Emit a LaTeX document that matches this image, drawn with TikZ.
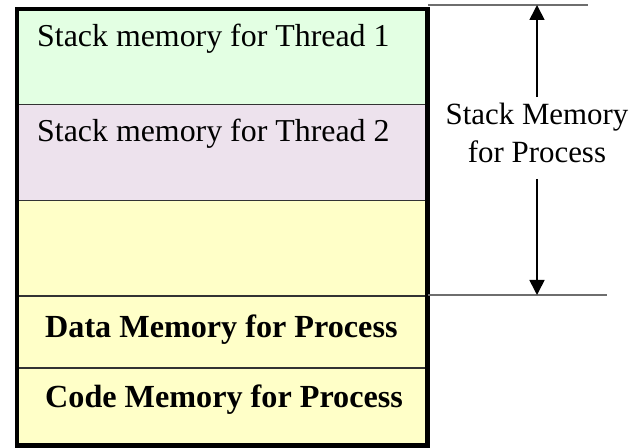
\documentclass[tikz,border=0pt]{standalone}
\usepackage{fontspec}
\setmainfont{Liberation Serif}
\usetikzlibrary{arrows.meta}
\definecolor{throne}{RGB}{227,255,227}
\definecolor{thrtwo}{RGB}{237,226,237}
\definecolor{procmem}{RGB}{255,255,200}
\definecolor{rulegray}{RGB}{110,110,110}
\begin{document}
\begin{tikzpicture}[x=1bp,y=-1bp]
  \tikzset{segment/.style={draw=black!80, line width=1.5bp, inner sep=0pt, anchor=north west, minimum width=409bp},
    memtext/.style={anchor=base west, inner sep=0pt, font=\fontsize{32}{36}\selectfont},
    extent/.style={draw=rulegray, line width=1.5bp},
    span/.style={line width=1.6bp, -{Triangle[width=15bp,length=15bp]}}}
  \useasboundingbox (0,0) rectangle (643,448);
  \node[segment, fill=throne, minimum height=95bp] at (17,9) (stack_1) {};
  \node[segment, fill=thrtwo, minimum height=96bp] at (17,104) (stack_2) {};
  \node[segment, fill=procmem, minimum height=95bp] at (17,200) (free) {};
  \node[segment, fill=procmem, minimum height=72bp] at (17,295) (data) {};
  \node[segment, fill=procmem, minimum height=77bp] at (17,367) (code) {};
  \draw[line width=4.5bp] (stack_1.north west) rectangle (code.south east);

  \node[memtext] at (37,47) (stack_1_txt) {Stack memory for Thread 1};
  \node[memtext] at (37,142) (stack_2_txt) {Stack memory for Thread 2};
  \node[memtext, font=\fontsize{32.3}{36}\selectfont\bfseries] at (45,337) (data_txt) {Data Memory for Process};
  \node[memtext, font=\fontsize{32.3}{36}\selectfont\bfseries] at (45,407) (code_txt) {Code Memory for Process};

  % extent of the stack memory
  \coordinate (top_l) at (428,5);
  \coordinate (top_r) at (588,5);
  \coordinate (bot_l) at (428,295);
  \coordinate (bot_r) at (607,295);
  \coordinate (top_a) at (537,5);
  \coordinate (bot_a) at (537,295);
  \draw[extent] (top_l) -- (top_r);
  \draw[extent] (bot_l) -- (bot_r);
  \node[align=center, inner sep=6bp, font=\fontsize{31}{38}\selectfont] at (537,133) (stack_txt) {Stack Memory\\for Process};
  \draw[span] (stack_txt.north) -- (top_a);
  \draw[span, shorten <=10bp] (stack_txt.south) -- (bot_a);
\end{tikzpicture}
\end{document}
